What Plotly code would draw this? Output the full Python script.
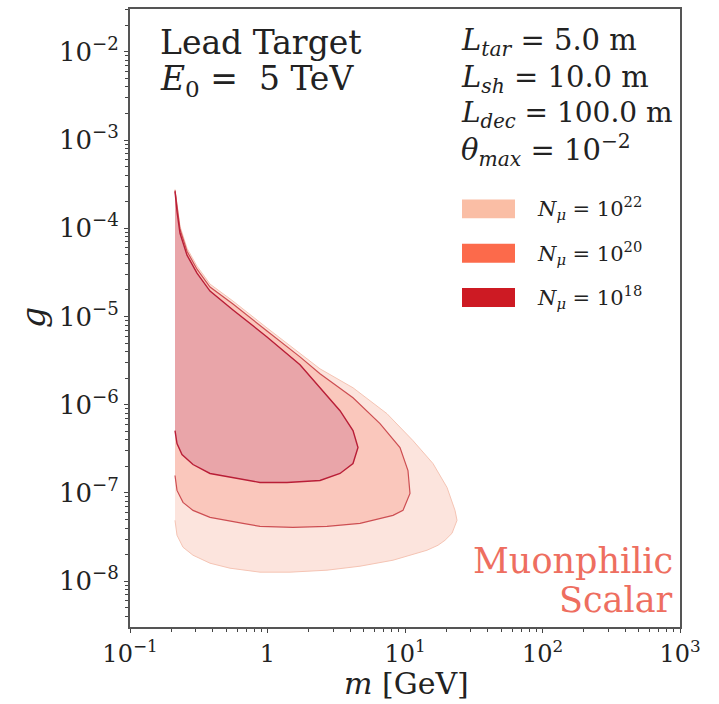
import plotly.graph_objects as go

# ---- data (m in GeV, g dimensionless) ----
m_1e22 = [0.2125, 0.2197, 0.2310, 0.2598, 0.3071, 0.3819, 0.5612, 0.9917, 1.723, 2.409,
          4.186, 7.397, 11.43, 15.98, 20.21, 23.10, 23.89, 21.97, 19.54, 17.38, 14.45,
          10.87, 8.180, 4.707, 2.708, 1.458, 0.8820, 0.5337, 0.3819, 0.2872, 0.2429,
          0.2197, 0.2125]
g_1e22 = [2.759e-4, 1.772e-4, 1.053e-4, 5.943e-5, 3.720e-5, 2.329e-5, 1.496e-5, 7.418e-6,
          3.868e-6, 2.551e-6, 1.556e-6, 7.911e-7, 3.917e-7, 2.154e-7, 1.153e-7, 6.343e-8,
          4.888e-8, 3.486e-8, 2.905e-8, 2.551e-8, 2.240e-8, 1.967e-8, 1.727e-8, 1.477e-8,
          1.331e-8, 1.264e-8, 1.264e-8, 1.402e-8, 1.597e-8, 1.967e-8, 2.422e-8, 3.310e-8,
          4.888e-8]

m_1e20 = [0.2125, 0.2197, 0.2310, 0.2598, 0.3071, 0.3819, 0.5612, 0.9917, 1.723, 2.409,
          4.186, 6.579, 9.197, 10.51, 10.87, 9.671, 8.180, 4.707, 2.708, 1.532, 0.8820,
          0.6636, 0.3819, 0.2872, 0.2429, 0.2197, 0.2125]
g_1e20 = [2.688e-4, 1.683e-4, 9.743e-5, 5.496e-5, 3.440e-5, 2.154e-5, 1.384e-5, 6.859e-6,
          3.486e-6, 2.240e-6, 1.200e-6, 6.100e-7, 3.266e-7, 1.795e-7, 9.872e-8, 6.343e-8,
          5.567e-8, 4.521e-8, 4.181e-8, 4.075e-8, 4.181e-8, 4.521e-8, 5.285e-8, 6.343e-8,
          7.811e-8, 1.067e-7, 1.577e-7]

m_1e18 = [0.2125, 0.2197, 0.2310, 0.2598, 0.3071, 0.3819, 0.5612, 0.9917, 1.723, 2.409,
          3.368, 4.186, 4.551, 4.186, 3.368, 2.409, 1.386, 0.8820, 0.6636, 0.3819, 0.2872,
          0.2388, 0.2197, 0.2125]
g_1e18 = [2.618e-4, 1.556e-4, 8.779e-5, 4.953e-5, 3.100e-5, 1.941e-5, 1.184e-5, 5.867e-6,
          2.831e-6, 1.556e-6, 8.554e-7, 5.084e-7, 3.266e-7, 2.154e-7, 1.661e-7, 1.384e-7,
          1.314e-7, 1.314e-7, 1.421e-7, 1.661e-7, 2.099e-7, 2.723e-7, 3.624e-7, 5.084e-7]

legend_labels = ["<i>N</i><sub><i>μ</i></sub> = 10<sup>22</sup>",
                 "<i>N</i><sub><i>μ</i></sub> = 10<sup>20</sup>",
                 "<i>N</i><sub><i>μ</i></sub> = 10<sup>18</sup>"]
legend_colors = ["#fabea5", "#fc6a4b", "#cd1a23"]

x_tickvals = [0.1, 1, 10, 100, 1000]
x_ticktext = ["10<sup>−1</sup>", "1", "10<sup>1</sup>", "10<sup>2</sup>", "10<sup>3</sup>"]
y_tickvals = [1e-8, 1e-7, 1e-6, 1e-5, 1e-4, 1e-3, 1e-2]
y_ticktext = ["10<sup>−8</sup>", "10<sup>−7</sup>", "10<sup>−6</sup>", "10<sup>−5</sup>",
              "10<sup>−4</sup>", "10<sup>−3</sup>", "10<sup>−2</sup>"]

SERIF = "DejaVu Serif"

fig = go.Figure()
fig.add_trace(go.Scatter(x=m_1e22, y=g_1e22, mode="lines", fill="toself",
                         fillcolor="rgb(252,228,221)", line=dict(color="rgb(245,196,180)", width=1),
                         hoverinfo="skip", showlegend=False))
fig.add_trace(go.Scatter(x=m_1e20, y=g_1e20, mode="lines", fill="toself",
                         fillcolor="rgb(250,199,188)", line=dict(color="rgb(205,78,82)", width=1.2),
                         hoverinfo="skip", showlegend=False))
fig.add_trace(go.Scatter(x=m_1e18, y=g_1e18, mode="lines", fill="toself",
                         fillcolor="rgb(233,165,169)", line=dict(color="rgb(185,30,55)", width=1.4),
                         hoverinfo="skip", showlegend=False))

# plot-area geometry helpers (paper coords)
L, R, T, B = 130, 680, 7, 627
def xp(px):
    return (px - L) / (R - L)
def yp(py):
    return (B - py) / (B - T)

shapes = []
annotations = []
# legend (manual)
for i, (lab, col) in enumerate(zip(legend_labels, legend_colors)):
    top = 198 + 44.5 * i
    shapes.append(dict(type="rect", xref="paper", yref="paper",
                       x0=xp(462), x1=xp(515), y0=yp(top), y1=yp(top + 19),
                       fillcolor=col, line=dict(width=0)))
    annotations.append(dict(text=lab, xref="paper", yref="paper", x=xp(535), y=yp(top + 9),
                            xanchor="left", yanchor="middle", showarrow=False,
                            font=dict(family=SERIF, size=21, color="#222")))

texts = [
    ("Lead Target", 158, 41, "left", "middle", 33, "#222"),
    ("<i>E</i><sub>0</sub> =  5 TeV", 158, 79, "left", "middle", 33, "#222"),
    ("<i>L</i><sub><i>tar</i></sub> = 5.0 m", 459, 40, "left", "middle", 29, "#222"),
    ("<i>L</i><sub><i>sh</i></sub> = 10.0 m", 459, 77, "left", "middle", 29, "#222"),
    ("<i>L</i><sub><i>dec</i></sub> = 100.0 m", 459, 113, "left", "middle", 28, "#222"),
    ("<i>θ</i><sub><i>max</i></sub> = 10<sup>−2</sup>", 459, 148, "left", "middle", 29, "#222"),
    ("Muonphilic", 675, 561, "right", "middle", 35, "#ee6e60"),
    ("Scalar", 675, 600, "right", "middle", 35, "#ee6e60"),
    ("<i>m</i> [GeV]", 406, 703, "center", "bottom", 30, "#222"),
]
for t, x, y, anc, vanc, sz, col in texts:
    annotations.append(dict(text=t, xref="paper", yref="paper", x=xp(x), y=yp(y),
                            xanchor=anc, yanchor=vanc, showarrow=False,
                            font=dict(family=SERIF, size=sz, color=col)))
annotations.append(dict(text="<i>g</i>", xref="paper", yref="paper", x=xp(33), y=yp(317),
                        xanchor="center", yanchor="middle", textangle=-90, showarrow=False,
                        font=dict(family=SERIF, size=33, color="#222")))

minor_x = [k * 10.0 ** e for e in range(-1, 3) for k in range(2, 10)]
minor_y = [k * 10.0 ** e for e in range(-9, -1) for k in range(2, 10)]

fig.update_layout(
    width=719, height=704,
    margin=dict(l=L, r=719 - R, t=T, b=704 - B),
    paper_bgcolor="white", plot_bgcolor="white",
    shapes=shapes, annotations=annotations,
    showlegend=False,
    font=dict(family=SERIF, color="#222"),
    xaxis=dict(type="log", range=[-1, 3], tickmode="array", tickvals=x_tickvals,
               ticktext=x_ticktext, ticks="outside", ticklen=4, tickwidth=1.2,
               tickcolor="#444", showline=True, mirror=True, linecolor="#555",
               linewidth=2, showgrid=False, zeroline=False,
               tickfont=dict(family=SERIF, size=24, color="#222"),
               minor=dict(tickmode="array", tickvals=minor_x, ticks="outside",
                          ticklen=3, tickcolor="#444", showgrid=False)),
    yaxis=dict(type="log", range=[-8.52, -1.514], tickmode="array", tickvals=y_tickvals,
               ticktext=y_ticktext, ticks="outside", ticklen=4, tickwidth=1.2,
               tickcolor="#444", showline=True, mirror=True, linecolor="#555",
               linewidth=2, showgrid=False, zeroline=False,
               tickfont=dict(family=SERIF, size=26, color="#222"),
               minor=dict(tickmode="array", tickvals=minor_y, ticks="outside",
                          ticklen=3, tickcolor="#444", showgrid=False)),
)

fig.write_html("out.html")
